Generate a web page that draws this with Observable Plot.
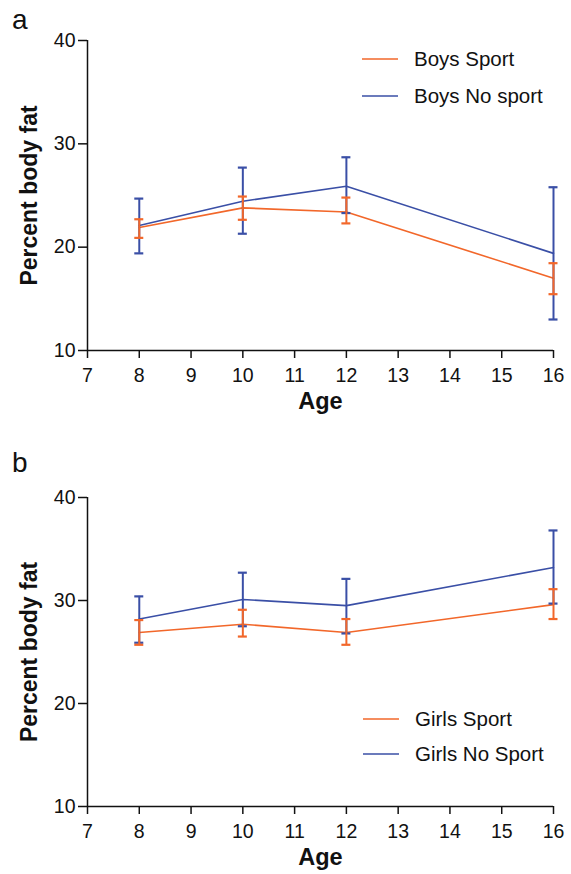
<!DOCTYPE html>
<html>
<head>
<meta charset="utf-8">
<script src="https://cdn.jsdelivr.net/npm/d3@7"></script>
<script src="https://cdn.jsdelivr.net/npm/@observablehq/plot@0.6"></script>
<style>
  html, body { margin: 0; padding: 0; background: #fff; }
  #wrap { position: relative; width: 571px; height: 874px; overflow: hidden; font-family: "Liberation Sans", Arial, sans-serif; }
  .panel { position: absolute; left: 0; }
  .plabel { position: absolute; font-size: 28px; color: #111; line-height: 1; }
  .legend { position: absolute; font-size: 20.5px; color: #111; }
  .legend .row { position: absolute; left: 0; white-space: nowrap; display: flex; align-items: center; height: 20px; }
  .legend svg { margin-right: 16px; }
</style>
</head>
<body>
<div id="wrap"></div>
<script>
// ---- data ----
const ages = [8, 10, 12, 16];
const xTicks = [7, 8, 9, 10, 11, 12, 13, 14, 15, 16];
const yTicks = [10, 20, 30, 40];

const boysSport     = [21.9, 23.8, 23.4, 17.0];
const boysSportLo   = [20.9, 22.65, 22.3, 15.45];
const boysSportHi   = [22.7, 24.9, 24.8, 18.45];
const boysNoSport   = [22.1, 24.45, 25.9, 19.4];
const boysNoSportLo = [19.4, 21.3, 23.3, 13.0];
const boysNoSportHi = [24.7, 27.7, 28.7, 25.8];

const girlsSport     = [26.9, 27.7, 26.9, 29.6];
const girlsSportLo   = [25.7, 26.5, 25.7, 28.2];
const girlsSportHi   = [28.1, 29.1, 28.2, 31.1];
const girlsNoSport   = [28.2, 30.1, 29.5, 33.2];
const girlsNoSportLo = [25.9, 27.5, 26.8, 29.7];
const girlsNoSportHi = [30.4, 32.7, 32.1, 36.8];

const seriesA = ["Boys Sport", "Boys No sport"];
const seriesB = ["Girls Sport", "Girls No Sport"];
const ORANGE = "#f2672a";
const BLUE = "#3a4fa6";

function rows(name, mean, lo, hi) {
  return ages.map((a, i) => ({series: name, age: a, mean: mean[i], lo: lo[i], hi: hi[i]}));
}

function panel(sportRows, noRows, opts) {
  const errMarks = (data, color) => [
    Plot.ruleX(data, {x: "age", y1: "lo", y2: "hi", stroke: color, strokeWidth: 2}),
    Plot.ruleY(data, {y: "lo", x1: "age", x2: "age", insetLeft: -4.5, insetRight: -4.5, stroke: color, strokeWidth: 2.2}),
    Plot.ruleY(data, {y: "hi", x1: "age", x2: "age", insetLeft: -4.5, insetRight: -4.5, stroke: color, strokeWidth: 2.2})
  ];
  return Plot.plot({
    width: 571,
    height: opts.height,
    marginLeft: 87,
    marginRight: 18,
    marginTop: opts.marginTop,
    marginBottom: opts.marginBottom,
    style: {fontFamily: "'Liberation Sans', Arial, sans-serif", fontSize: "19.5px", color: "#111", background: "transparent"},
    x: {domain: [7, 16]},
    y: {domain: [10, 40]},
    marks: [
      Plot.axisX({ticks: xTicks, tickSize: 8, tickPadding: 10, tickFormat: d => String(d), label: null, strokeWidth: 1.5}),
      Plot.axisY({ticks: yTicks, tickSize: 9, tickPadding: 3, tickFormat: d => String(d), label: null, strokeWidth: 1.5}),
      Plot.ruleY([10], {stroke: "#111", strokeWidth: 1.5}),
      Plot.ruleX([7], {stroke: "#111", strokeWidth: 1.5}),
      Plot.line(noRows, {x: "age", y: "mean", stroke: BLUE, strokeWidth: 1.6}),
      Plot.line(sportRows, {x: "age", y: "mean", stroke: ORANGE, strokeWidth: 1.6}),
      ...errMarks(noRows, BLUE),
      ...errMarks(sportRows, ORANGE),
      Plot.text(["Age"], {frameAnchor: "bottom", dy: opts.ageDy, fontWeight: "bold", fontSize: 23.5, fill: "#111"}),
      Plot.text(["Percent body fat"], {frameAnchor: "left", textAnchor: "middle", dx: -58, rotate: -90, fontWeight: "bold", fontSize: 23, fill: "#111"})
    ]
  });
}

const wrap = document.getElementById("wrap");

function addPanel(top, svg) {
  const d = document.createElement("div");
  d.className = "panel";
  d.style.top = top + "px";
  d.appendChild(svg);
  wrap.appendChild(d);
}

function addLabel(text, left, top) {
  const d = document.createElement("div");
  d.className = "plabel";
  d.style.left = left + "px";
  d.style.top = top + "px";
  d.textContent = text;
  wrap.appendChild(d);
}

function addLegend(names, left, top, gap) {
  const colors = [ORANGE, BLUE];
  const lg = document.createElement("div");
  lg.className = "legend";
  lg.style.left = left + "px";
  lg.style.top = top + "px";
  names.forEach((n, i) => {
    const r = document.createElement("div");
    r.className = "row";
    r.style.top = (i * gap) + "px";
    r.innerHTML = `<svg width="36" height="4"><line x1="0" x2="36" y1="2" y2="2" stroke="${colors[i]}" stroke-width="1.6"/></svg><span></span>`;
    r.querySelector("span").textContent = n;
    lg.appendChild(r);
  });
  wrap.appendChild(lg);
}

// Panel a
addPanel(0, panel(rows(seriesA[0], boysSport, boysSportLo, boysSportHi),
                  rows(seriesA[1], boysNoSport, boysNoSportLo, boysNoSportHi),
                  {height: 437, marginTop: 40, marginBottom: 87, ageDy: 58}));
// Panel b
addPanel(437, panel(rows(seriesB[0], girlsSport, girlsSportLo, girlsSportHi),
                    rows(seriesB[1], girlsNoSport, girlsNoSportLo, girlsNoSportHi),
                    {height: 437, marginTop: 60, marginBottom: 68, ageDy: 58}));

addLabel("a", 12, 6);
addLabel("b", 12, 449);
addLegend(seriesA, 362, 49, 37);
addLegend(seriesB, 363, 709, 35);
</script>
</body>
</html>
